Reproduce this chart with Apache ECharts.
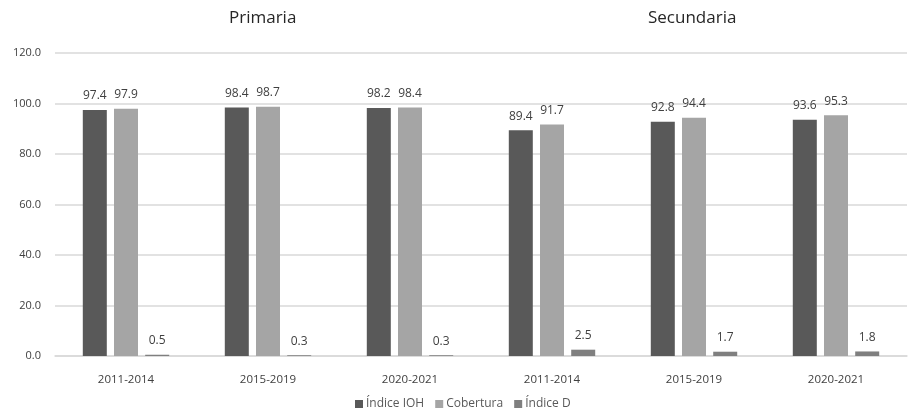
<!DOCTYPE html>
<html>
<head>
<meta charset="utf-8">
<script src="https://cdn.jsdelivr.net/npm/echarts@6/dist/echarts.min.js"></script>
<style>
  html, body { margin: 0; padding: 0; background: #ffffff; }
  #chart { width: 908px; height: 414px; }
</style>
</head>
<body>
<div id="chart"></div>
<script>
// Periods, three per school level
const categories = ['2011-2014', '2015-2019', '2020-2021', '2011-2014', '2015-2019', '2020-2021'];
const levelTitles = ['Primaria', 'Secundaria'];
const seriesNames = ['Índice IOH', 'Cobertura', 'Índice D'];

const indiceIOH = [97.4, 98.4, 98.2, 89.4, 92.8, 93.6];
const cobertura = [97.9, 98.7, 98.4, 91.7, 94.4, 95.3];
const indiceD = [0.5, 0.3, 0.3, 2.5, 1.7, 1.8];

const yTicks = { min: 0, max: 120, interval: 20 };

const FONT = '"Open Sans", "Liberation Sans", sans-serif';
const colors = ['#595959', '#a5a5a5', '#7f7f7f'];

function barSeries(name, data, color) {
  return {
    name: name,
    type: 'bar',
    data: data,
    barWidth: 24,
    barGap: '30%',
    itemStyle: { color: color },
    label: {
      show: true,
      position: 'top',
      distance: 8,
      color: '#404040',
      fontFamily: FONT,
      fontSize: 12,
      formatter: p => p.value.toFixed(1)
    }
  };
}

const titleStyle = { fontFamily: FONT, fontSize: 17, fontWeight: 'normal', color: '#262626' };

const chart = echarts.init(document.getElementById('chart'), null, { renderer: 'canvas' });
chart.setOption({
  animation: false,
  backgroundColor: '#ffffff',
  title: [
    { text: levelTitles[0], left: 224, top: 5, textStyle: titleStyle },
    { text: levelTitles[1], left: 643, top: 5, textStyle: titleStyle }
  ],
  grid: { left: 55, right: 1, top: 53, bottom: 58, containLabel: false },
  legend: {
    bottom: -1,
    left: 350,
    itemWidth: 8,
    itemHeight: 8,
    itemGap: 11,
    icon: 'rect',
    textStyle: { fontFamily: FONT, fontSize: 12, color: '#595959', padding: [0, 0, 0, -2] },
    data: seriesNames
  },
  xAxis: {
    type: 'category',
    data: categories,
    axisLine: { show: true, lineStyle: { color: '#d9d9d9', width: 1.5 } },
    axisTick: { show: false },
    axisLabel: { fontFamily: FONT, fontSize: 11.5, color: '#404040', margin: 18 }
  },
  yAxis: {
    type: 'value',
    min: yTicks.min,
    max: yTicks.max,
    interval: yTicks.interval,
    axisLine: { show: false },
    axisTick: { show: false },
    splitLine: { lineStyle: { color: '#d9d9d9', width: 1.5 } },
    axisLabel: { fontFamily: FONT, fontSize: 11, color: '#404040', margin: 14,
      formatter: v => v.toFixed(1) }
  },
  series: [
    barSeries(seriesNames[0], indiceIOH, colors[0]),
    barSeries(seriesNames[1], cobertura, colors[1]),
    barSeries(seriesNames[2], indiceD, colors[2])
  ]
});
</script>
</body>
</html>
